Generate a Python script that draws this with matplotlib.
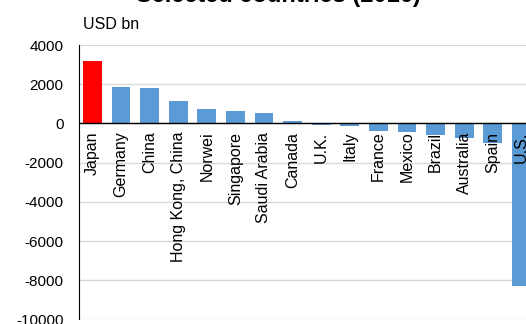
import matplotlib
matplotlib.use("Agg")
import matplotlib.pyplot as plt

# Data (USD bn, 2016)
countries = ["Japan", "Germany", "China", "Hong Kong, China", "Norwei", "Singapore",
             "Saudi Arabia", "Canada", "U.K.", "Italy", "France", "Mexico", "Brazil",
             "Australia", "Spain", "U.S."]
values = [3190, 1880, 1815, 1155, 750, 610, 545, 150, -100, -150, -370, -460, -580,
          -720, -1000, -8300]
highlight = "Japan"
y_ticks = [4000, 2000, 0, -2000, -4000, -6000, -8000, -10000]

plt.rcParams['font.family'] = ['Liberation Sans', 'DejaVu Sans']

fig = plt.figure(figsize=(5.26, 3.24), dpi=100)
ax = fig.add_axes([0.150, 0.014, 0.85, 0.847])

colors = ['#FF0000' if c == highlight else '#5B9BD5' for c in countries]
x = range(len(countries))
ax.bar(x, values, width=0.66, color=colors, zorder=3)

# category labels hang just below the zero line
for i, c in enumerate(countries):
    ax.text(i, -420, c, rotation=90, ha='center', va='top', fontsize=11.5, zorder=4)

ax.axhline(0, color='black', linewidth=1, zorder=4)
ax.set_xlim(-0.47, 15.16)
ax.set_ylim(-10000, 4000)
ax.set_yticks(y_ticks)
ax.set_yticklabels([str(t) for t in y_ticks], fontsize=11)
ax.set_xticks([])
ax.tick_params(axis='y', length=0, pad=11)
ax.grid(axis='y', color='#d9d9d9', linewidth=1, zorder=0)
for s in ['top', 'right', 'bottom']:
    ax.spines[s].set_visible(False)
ax.spines['left'].set_color('black')
ax.spines['left'].set_zorder(5)

fig.text(0.158, 0.923, "USD bn", fontsize=11.5, ha='left', va='center')
fig.text(0.53, 0.978, "Selected countries (2016)", fontsize=17, fontweight='bold',
         ha='center', va='bottom')

fig.savefig("out.png", dpi=100)
